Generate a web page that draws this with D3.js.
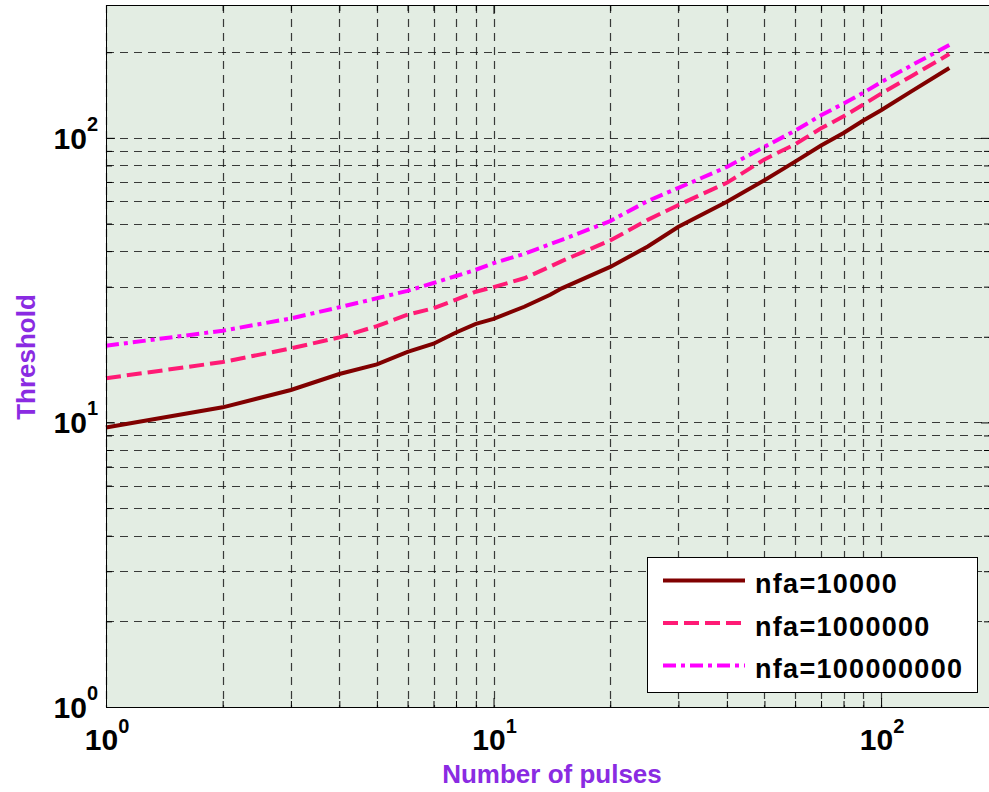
<!DOCTYPE html>
<html>
<head>
<meta charset="utf-8">
<script src="https://cdn.jsdelivr.net/npm/d3@7"></script>
<style>
  body { margin: 0; background: #fff; }
  text { font-family: "Liberation Sans", Arial, Helvetica, sans-serif; font-weight: bold; }
</style>
</head>
<body>
<script>
// values
var nPulses = [1, 2, 3, 4, 5, 6, 7, 8, 9, 10, 12, 14, 15, 20, 25, 30, 40, 50, 60, 70, 80, 90, 100, 120, 150];
var thrNfa4 = [9.6, 11.3, 13.0, 14.8, 16.0, 17.7, 18.9, 20.7, 22.2, 23.1, 25.5, 28.1, 29.6, 35.2, 41.5, 48.7, 59.6, 71, 82.5, 94, 104, 115, 125, 146, 176];
var thrNfa6 = [14.3, 16.3, 18.2, 19.9, 21.8, 23.9, 25.2, 27.0, 28.8, 29.9, 32.1, 35.3, 36.9, 43.6, 51.5, 58.1, 69.5, 84, 95, 108, 119, 131, 143, 165, 197];
var thrNfa8 = [18.6, 21.0, 23.2, 25.4, 27.3, 29.0, 30.9, 32.7, 34.4, 36.3, 39.1, 42.3, 43.8, 51, 60, 66.7, 79, 93, 106, 120, 132, 144, 157, 180, 212];
var seriesNames = ["nfa=10000", "nfa=1000000", "nfa=100000000"];

var majorX = [1, 10, 100];
var minorX = [2, 3, 4, 5, 6, 7, 8, 9, 20, 30, 40, 50, 60, 70, 80, 90];
var majorY = [1, 10, 100];
var minorY = [2, 3, 4, 5, 6, 7, 8, 9, 20, 30, 40, 50, 60, 70, 80, 90, 200];
var tickExp = {1: "0", 10: "1", 100: "2"};

var w = 989, h = 792;
var padL = 106, padR = 990, padT = 5, padB = 707;

var svg = d3.select("body").append("svg")
  .attr("width", w)
  .attr("height", h);

var x = d3.scaleLog().domain([1, 191]).range([padL, padR]);
var y = d3.scaleLog().domain([1, 293]).range([padB, padT]);

// plot background
svg.append("rect")
  .attr("x", padL).attr("y", padT)
  .attr("width", padR - padL).attr("height", padB - padT)
  .attr("fill", "#e3ede3");

// grid
var grid = svg.append("g");
grid.selectAll("line.gx")
  .data(majorX.concat(minorX))
  .enter().append("line")
  .attr("x1", function(d) { return Math.round(x(d)) + 0.5; })
  .attr("x2", function(d) { return Math.round(x(d)) + 0.5; })
  .attr("y1", padT).attr("y2", padB);
grid.selectAll("line.gy")
  .data(majorY.concat(minorY))
  .enter().append("line")
  .attr("y1", function(d) { return Math.round(y(d)) + 0.5; })
  .attr("y2", function(d) { return Math.round(y(d)) + 0.5; })
  .attr("x1", padL).attr("x2", padR);
grid.selectAll("line")
  .attr("stroke", "#1a1a1a")
  .attr("stroke-opacity", 0.85)
  .attr("stroke-width", 1.2)
  .attr("stroke-dasharray", "8,6");

// ticks, all inward
function tickAxis(axis, vals, size, tr) {
  var g = svg.append("g")
    .attr("transform", tr)
    .call(axis.tickValues(vals).tickSize(size).tickSizeOuter(0).tickFormat(""));
  g.select(".domain").remove();
  g.selectAll("line").attr("stroke", "#000");
  return g;
}
tickAxis(d3.axisBottom(x), majorX, -9, "translate(0," + padB + ")");
tickAxis(d3.axisBottom(x), minorX, -6, "translate(0," + padB + ")");
tickAxis(d3.axisTop(x), majorX, -9, "translate(0," + padT + ")");
tickAxis(d3.axisTop(x), minorX, -6, "translate(0," + padT + ")");
tickAxis(d3.axisLeft(y), majorY, -9, "translate(" + padL + ",0)");
tickAxis(d3.axisLeft(y), minorY, -6, "translate(" + padL + ",0)");
tickAxis(d3.axisRight(y), majorY, -9, "translate(" + padR + ",0)");
tickAxis(d3.axisRight(y), minorY, -6, "translate(" + padR + ",0)");

// tick labels as 10^n
var xl = svg.append("g").selectAll("text")
  .data(majorX).enter().append("text")
  .attr("x", function(d) { return x(d) + 1; })
  .attr("y", padB + 43)
  .attr("text-anchor", "middle")
  .style("font-size", "30px");
xl.append("tspan").text("10");
xl.append("tspan").attr("dy", -17).style("font-size", "20px").text(function(d) { return tickExp[d]; });

var yl = svg.append("g").selectAll("text")
  .data(majorY).enter().append("text")
  .attr("x", padL - 8)
  .attr("y", function(d) { return y(d) + 11; })
  .attr("text-anchor", "end")
  .style("font-size", "30px");
yl.append("tspan").text("10");
yl.append("tspan").attr("dy", -18).style("font-size", "20px").text(function(d) { return tickExp[d]; });

// curves
var series = [
  {vals: thrNfa4, color: "#800000", dash: null},
  {vals: thrNfa6, color: "#ff1a75", dash: "15,6"},
  {vals: thrNfa8, color: "#ff00ff", dash: "13,5,4,5"}
];
var line = d3.line()
  .x(function(d) { return x(d[0]); })
  .y(function(d) { return y(d[1]); });

series.forEach(function(s) {
  svg.append("path")
    .datum(d3.zip(nPulses, s.vals))
    .attr("d", line)
    .attr("fill", "none")
    .attr("stroke", s.color)
    .attr("stroke-width", 4)
    .attr("stroke-dasharray", s.dash);
});

// box
svg.append("rect")
  .attr("x", padL + 0.5).attr("y", padT + 0.5)
  .attr("width", padR - padL).attr("height", padB - padT)
  .attr("fill", "none")
  .attr("stroke", "#000");

// legend
var lg = svg.append("g");
lg.append("rect")
  .attr("x", 647.5).attr("y", 557.5)
  .attr("width", 330).attr("height", 135)
  .attr("fill", "#fff")
  .attr("stroke", "#000");
series.forEach(function(s, i) {
  var ly = 593 + i * 42.5;
  lg.append("line")
    .attr("x1", 663).attr("x2", 745)
    .attr("y1", ly - 12.5).attr("y2", ly - 12.5)
    .attr("stroke", s.color)
    .attr("stroke-width", 4)
    .attr("stroke-dasharray", s.dash);
  lg.append("text")
    .attr("x", 755).attr("y", ly)
    .style("font-size", "27px")
    .style("letter-spacing", "1.3px")
    .text(seriesNames[i]);
});

// axis titles
svg.append("text")
  .attr("x", 552).attr("y", 783)
  .attr("text-anchor", "middle")
  .style("font-size", "26px")
  .attr("fill", "#8a2be2")
  .text("Number of pulses");

svg.append("text")
  .attr("transform", "translate(35,357) rotate(-90)")
  .attr("text-anchor", "middle")
  .style("font-size", "26px")
  .attr("fill", "#8a2be2")
  .text("Threshold");
</script>
</body>
</html>
